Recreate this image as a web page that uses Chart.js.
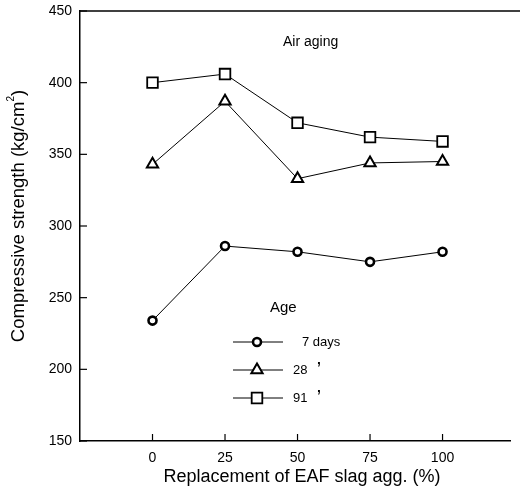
<!DOCTYPE html>
<html><head><meta charset="utf-8">
<script src="https://cdn.jsdelivr.net/npm/chart.js@4/dist/chart.umd.min.js"></script>
<style>html,body{margin:0;padding:0;background:#fff}#wrap{width:520px;height:491px}</style>
</head><body><div id="wrap"><canvas id="c" width="520" height="491"></canvas></div>
<script>
const replacement = [0, 25, 50, 75, 100];
const days7 = [234, 286, 282, 275, 282];
const days28 = [343, 387, 333, 344, 345];
const days91 = [400, 406, 372, 362, 359];
const yTicks = [150, 200, 250, 300, 350, 400, 450];
const xTicks = [0, 25, 50, 75, 100];
const legendLabels = ['7 days', '28', '91'];

const FONT = '"Liberation Sans Narrow", "Liberation Sans", Arial, sans-serif';
const FONT2 = '"Liberation Sans", Arial, sans-serif';

function pts(arr){ return replacement.map((x,i)=>({x:x,y:arr[i]})); }

const styles = [
  {pointStyle:'circle', pointRadius:4, borderWidth:2.6},
  {pointStyle:'triangle', pointRadius:6.5, borderWidth:2},
  {pointStyle:'rect', pointRadius:7.5, borderWidth:1.8}
];

const decor = {
  id:'decor',
  afterDraw(chart){
    const ctx = chart.ctx, a = chart.chartArea;
    const xs = chart.scales.x, ys = chart.scales.y;
    ctx.save();
    ctx.strokeStyle = '#000'; ctx.lineWidth = 1.5;
    ctx.beginPath(); ctx.moveTo(a.left, a.top); ctx.lineTo(520, a.top); ctx.stroke();
    ctx.lineWidth = 1.2;
    yTicks.forEach(v=>{ const y = ys.getPixelForValue(v); ctx.beginPath(); ctx.moveTo(a.left, y); ctx.lineTo(a.left+7, y); ctx.stroke(); });
    xTicks.forEach(v=>{ const x = xs.getPixelForValue(v); ctx.beginPath(); ctx.moveTo(x, a.bottom); ctx.lineTo(x, a.bottom-7); ctx.stroke(); });
    ctx.fillStyle = '#000';
    ctx.font = '14px ' + FONT2;
    ctx.textAlign = 'left'; ctx.textBaseline = 'middle';
    ctx.fillText('Air aging', 283, 42);
    ctx.font = '15px ' + FONT2;
    ctx.fillText('Age', 270, 308);
    const rows = [342, 370, 398];
    chart.data.datasets.forEach((ds,i)=>{
      const y = rows[i];
      ctx.lineWidth = 1; ctx.strokeStyle = '#000';
      ctx.beginPath(); ctx.moveTo(233, y); ctx.lineTo(283, y); ctx.stroke();
      Chart.helpers.drawPoint(ctx, {pointStyle:ds.pointStyle, radius:ds.pointRadius, borderWidth:ds.pointBorderWidth, rotation:0}, 257, y);
      ctx.fillStyle = '#fff'; ctx.fill(); ctx.lineWidth = ds.pointBorderWidth; ctx.stroke();
      ctx.fillStyle = '#000';
      ctx.font = '13px ' + FONT;
      if (i === 0) ctx.fillText(legendLabels[i], 302, y);
      else {
        ctx.fillText(legendLabels[i], 293, y);
        ctx.font = 'bold 14px ' + FONT2;
        ctx.fillText('\u2019', 317, y-2);
      }
    });
    ctx.font = '18px ' + FONT2;
    ctx.textAlign = 'center'; ctx.textBaseline = 'middle';
    ctx.fillText('Replacement of EAF slag agg. (%)', 302, 477);
    ctx.translate(19, 216); ctx.rotate(-Math.PI/2);
    const main = 'Compressive strength (kg/cm';
    ctx.font = '18.5px ' + FONT2;
    const w1 = ctx.measureText(main).width;
    ctx.font = '10px ' + FONT2;
    const w2 = ctx.measureText('2').width;
    ctx.font = '18.5px ' + FONT2;
    const w3 = ctx.measureText(')').width;
    let x0 = -(w1+w2+w3)/2;
    ctx.textAlign = 'left';
    ctx.fillText(main, x0, 0);
    ctx.font = '10px ' + FONT2;
    ctx.fillText('2', x0+w1, -8);
    ctx.font = '18.5px ' + FONT2;
    ctx.fillText(')', x0+w1+w2, 0);
    ctx.restore();
  }
};

new Chart(document.getElementById('c'), {
  type:'scatter',
  data:{ datasets:[days7, days28, days91].map((d,i)=>({
    label: legendLabels[i],
    data: pts(d),
    showLine:true,
    borderColor:'#000', borderWidth:1,
    pointStyle: styles[i].pointStyle,
    pointRadius: styles[i].pointRadius,
    pointBorderWidth: styles[i].borderWidth,
    pointBackgroundColor:'#fff', pointBorderColor:'#000',
    pointHoverRadius: styles[i].pointRadius
  }))},
  options:{
    responsive:false, animation:false, devicePixelRatio:1,
    layout:{padding:{top:0, right:0, left:0, bottom:0}},
    plugins:{legend:{display:false}, tooltip:{enabled:false}},
    scales:{
      x:{type:'linear', min:-25, max:123.5,
        afterBuildTicks(s){ s.ticks = xTicks.map(v=>({value:v})); },
        afterFit(s){ s.height = 50; },
        grid:{display:false, drawTicks:false},
        border:{display:true, color:'#000', width:1.5},
        ticks:{color:'#000', padding:9, font:{family:FONT, size:14}, maxRotation:0}
      },
      y:{type:'linear', min:150, max:450,
        afterBuildTicks(s){ s.ticks = yTicks.map(v=>({value:v})); },
        afterFit(s){ s.width = 80; s.paddingTop = 11; s.paddingBottom = 0; },
        grid:{display:false, drawTicks:false},
        border:{display:true, color:'#000', width:1.5},
        ticks:{color:'#000', padding:8, font:{family:FONT, size:14, lineHeight:1}}
      }
    }
  },
  plugins:[decor]
});
</script></body></html>
